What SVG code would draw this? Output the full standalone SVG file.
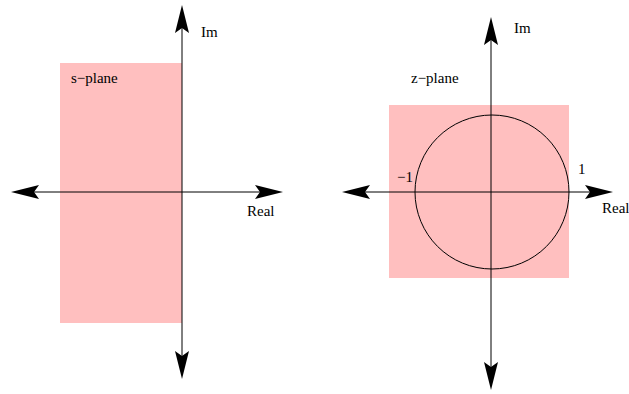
<svg xmlns="http://www.w3.org/2000/svg" width="629" height="394" viewBox="0 0 629 394">
<style>
.region{fill:#ffbfbf;stroke:none}
.axis{stroke:#000;stroke-width:1;fill:none}
.head{fill:#000;stroke:none}
text{font-family:"Liberation Serif","Times New Roman",serif;font-size:15px;fill:#000}
</style>
<defs>
<path id="ah" d="M0,0 L-28,-7 L-23,0 L-28,7 Z"/>
</defs>
<g id="s-region"><rect class="region" x="60" y="63" width="122" height="260"/></g>
<g id="z-region"><rect class="region" x="389" y="105" width="180" height="173"/></g>
<g id="unit-circle"><circle class="axis" cx="492" cy="192" r="77"/></g>
<g id="connectors">
<line class="axis" x1="20" y1="192" x2="275" y2="192"/>
<line class="axis" x1="182" y1="12" x2="182" y2="370"/>
<use href="#ah" class="head" transform="translate(283,192)"/>
<use href="#ah" class="head" transform="translate(11,192) rotate(180)"/>
<use href="#ah" class="head" transform="translate(182,5) rotate(-90)"/>
<use href="#ah" class="head" transform="translate(182,379) rotate(90)"/>
<line class="axis" x1="350" y1="192" x2="605" y2="192"/>
<line class="axis" x1="491" y1="24" x2="491" y2="382"/>
<use href="#ah" class="head" transform="translate(613,192)"/>
<use href="#ah" class="head" transform="translate(342,192) rotate(180)"/>
<use href="#ah" class="head" transform="translate(491,17) rotate(-90)"/>
<use href="#ah" class="head" transform="translate(491,390) rotate(90)"/>
</g>
<g id="labels">
<text x="201" y="37">Im</text>
<text x="247" y="216">Real</text>
<text x="71" y="83">s−plane</text>
<text x="514" y="33">Im</text>
<text x="602" y="213">Real</text>
<text x="411" y="83">z−plane</text>
<text x="397" y="182">−1</text>
<text x="578" y="174">1</text>
</g>
</svg>
